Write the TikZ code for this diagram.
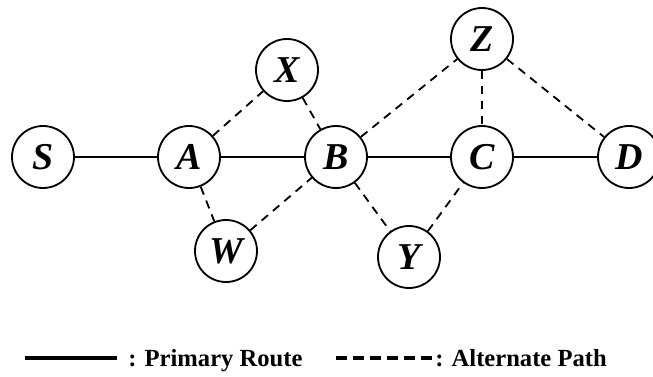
\documentclass[tikz,border=0pt]{standalone}
\usepackage{fontspec}
\setmainfont{Liberation Serif}
\usetikzlibrary{positioning}

\begin{document}
\begin{tikzpicture}[line cap=butt,line join=round,
    hop/.style={circle,draw,line width=1.3pt,minimum size=1.55cm,inner sep=0pt,
      font=\fontsize{27}{27}\selectfont\bfseries\itshape},
    primary/.style={line width=1.4pt},
    alternate/.style={line width=1.3pt,dash pattern=on 6pt off 4.6pt},
    legendtext/.style={font=\fontsize{17.5}{17.5}\selectfont\bfseries,inner sep=0pt,anchor=base west}]
  \useasboundingbox (0,0) rectangle (16.325,9.4);

  % Main route.
  \node[hop] (S) at (1.075,5.475) {S};
  \node[hop] (A) at (4.725,5.475) {A};
  \node[hop] (B) at (8.4,5.475) {B};
  \node[hop] (C) at (12.05,5.475) {C};
  \node[hop] (D) at (15.725,5.475) {D};

  % Detour nodes.
  \node[hop] (X) at (7.175,7.65) {X};
  \node[hop] (Z) at (12.05,8.425) {Z};
  \node[hop] (W) at (5.65,3.125) {W};
  \node[hop] (Y) at (10.225,2.975) {Y};

  \draw[primary] (S)--(A);
  \draw[primary] (A)--(B);
  \draw[primary] (B)--(C);
  \draw[primary] (C)--(D);

  \draw[alternate] (A)--(X);
  \draw[alternate] (X)--(B);
  \draw[alternate] (A)--(W);
  \draw[alternate] (W)--(B);
  \draw[alternate] (B)--(Z);
  \draw[alternate] (Z)--(C);
  \draw[alternate] (Z)--(D);
  \draw[alternate] (B)--(Y);
  \draw[alternate] (Y)--(C);

  % Legend.
  \coordinate (solidL) at (0.625,0.45);
  \coordinate (solidR) at (2.925,0.45);
  \draw[line width=2.4pt] (solidL)--(solidR);
  \node[legendtext] (primlbl) at (3.2,0.25) {: Primary Route};
  \coordinate (dashL) at (8.4,0.45);
  \coordinate (dashR) at (10.8,0.45);
  \draw[line width=2.4pt,dash pattern=on 7.8pt off 4.25pt] (dashL)--(dashR);
  \node[legendtext] (altlbl) at (10.875,0.25) {: Alternate Path};
\end{tikzpicture}
\end{document}
